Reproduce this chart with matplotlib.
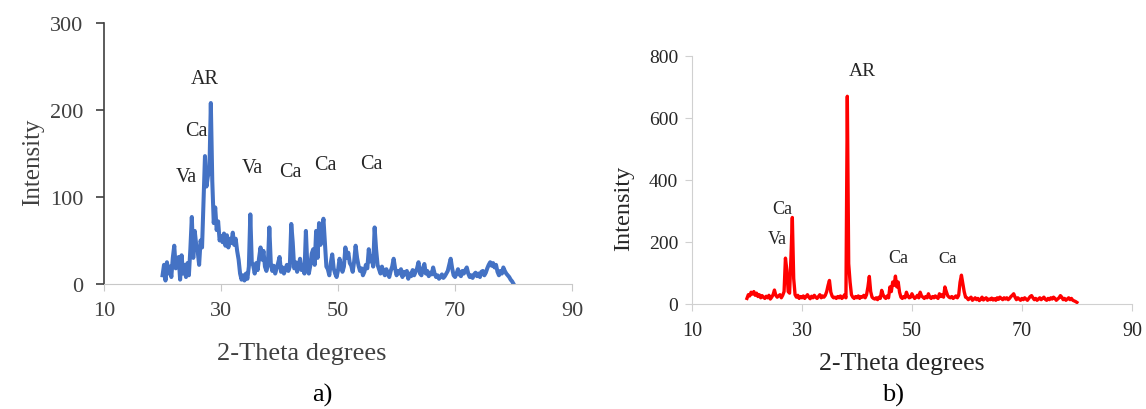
import numpy as np
import matplotlib
matplotlib.use("Agg")
import matplotlib.pyplot as plt

plt.rcParams['font.family'] = ['Liberation Serif', 'DejaVu Serif']

# 2-theta grid, 20..80 deg in 0.25 deg steps
two_theta = np.arange(20, 80.001, 0.25)

# a) intensity
intensity_a = [
    10, 22, 4, 25, 12, 20, 8, 30, 44, 18, 26, 31, 5, 33, 12, 22, 8, 24, 10, 40,
    77, 30, 61, 45, 38, 22, 50, 42, 95, 147, 112, 124, 128, 208, 118, 70, 88, 62, 72, 50,
    55, 48, 58, 44, 56, 42, 52, 47, 59, 45, 52, 38, 28, 12, 5, 10, 4, 12, 6, 20,
    80, 25, 21, 12, 24, 16, 30, 42, 28, 38, 20, 15, 22, 65, 24, 15, 21, 12, 18, 24,
    31, 14, 19, 12, 17, 22, 15, 20, 69, 48, 18, 25, 14, 21, 29, 16, 22, 12, 61, 20,
    12, 21, 35, 40, 22, 61, 30, 70, 45, 62, 75, 48, 20, 17, 10, 24, 34, 18, 12, 8,
    16, 29, 21, 14, 20, 42, 30, 36, 24, 21, 14, 26, 44, 30, 21, 15, 18, 10, 14, 22,
    18, 40, 26, 32, 20, 65, 40, 22, 17, 12, 20, 14, 10, 17, 12, 8, 15, 20, 29, 18,
    10, 15, 12, 17, 8, 14, 11, 15, 6, 12, 9, 16, 10, 14, 18, 25, 12, 10, 18, 23,
    12, 15, 9, 13, 11, 19, 12, 8, 10, 6, 8, 11, 7, 9, 12, 15, 22, 29, 18, 10,
    8, 12, 17, 11, 9, 15, 12, 16, 19, 12, 8, 10, 7, 11, 13, 9, 12, 8, 14, 15,
    10, 13, 18, 22, 25, 21, 24, 19, 22, 14, 10, 15, 12, 19, 15, 12, 10, 8, 5, 3,
    0,
]

# b) intensity
intensity_b = [
    18, 30, 26, 38, 32, 40, 28, 35, 24, 30, 20, 27, 22, 18, 25, 20, 28, 16, 22, 30,
    45, 28, 22, 26, 30, 20, 28, 40, 148, 110, 40, 35, 150, 279, 82, 30, 22, 28, 18, 24,
    20, 26, 18, 24, 30, 22, 17, 25, 20, 28, 22, 18, 24, 30, 20, 26, 22, 28, 40, 60,
    76, 38, 25, 20, 22, 18, 24, 20, 26, 18, 22, 30, 20, 670, 130, 71, 30, 22, 18, 24,
    20, 26, 18, 24, 22, 28, 20, 30, 55, 89, 40, 22, 18, 16, 20, 14, 22, 18, 44, 30,
    22, 18, 26, 20, 55, 40, 71, 60, 90, 55, 71, 38, 22, 18, 24, 20, 38, 26, 20, 22,
    33, 24, 18, 22, 28, 20, 38, 26, 22, 18, 24, 20, 33, 22, 18, 24, 20, 26, 22, 18,
    33, 24, 30, 22, 55, 40, 27, 22, 20, 24, 18, 22, 26, 20, 28, 70, 93, 66, 40, 22,
    20, 14, 18, 22, 12, 16, 20, 14, 18, 11, 15, 22, 13, 17, 20, 12, 16, 14, 19, 13,
    17, 12, 20, 15, 22, 18, 14, 20, 16, 20, 14, 18, 24, 28, 33, 22, 14, 20, 16, 12,
    18, 14, 20, 16, 12, 18, 24, 27, 20, 14, 18, 12, 16, 20, 14, 18, 22, 15, 12, 18,
    14, 20, 16, 22, 18, 12, 16, 20, 27, 22, 14, 18, 12, 16, 20, 14, 18, 12, 10, 8,
    5,
]

# phase labels: text, x, y
labels_a = [("AR", 27.3, 236), ("Ca", 25.7, 176), ("Va", 24.0, 123),
            ("Va", 35.3, 134), ("Ca", 41.8, 129), ("Ca", 47.8, 137), ("Ca", 55.6, 139)]
labels_b = [("AR", 40.9, 754, 14), ("Ca", 26.4, 308, 13), ("Va", 25.5, 212, 13),
            ("Ca", 47.5, 151, 13), ("Ca", 56.5, 148, 12)]

x_ticks = [10, 30, 50, 70, 90]

fig = plt.figure(figsize=(11.46, 4.10), dpi=100)

# ---- a) ----
ax1 = fig.add_axes([0.0908, 0.3049, 0.4084, 0.6366])
ax1.plot(two_theta, intensity_a, color="#4472C4", lw=2.9)
ax1.set_xlim(10, 90)
ax1.set_ylim(0, 300)
ax1.set_xticks(x_ticks)
ax1.set_yticks([0, 100, 200, 300])
for s in ["top", "right"]:
    ax1.spines[s].set_visible(False)
ax1.spines["left"].set_color("#404040")
ax1.spines["left"].set_linewidth(1.2)
ax1.spines["bottom"].set_color("#c8c8c8")
ax1.tick_params(axis="y", colors="#404040", labelsize=16, length=6, width=1.2, pad=9)
ax1.tick_params(axis="x", colors="#c8c8c8", labelcolor="#404040", labelsize=16, length=5, pad=7)
ax1.set_xlabel("2-Theta degrees", fontsize=19, color="#404040")
ax1.xaxis.set_label_coords(0.423, -0.222)
ax1.set_ylabel("Intensity", fontsize=18, color="#404040")
ax1.yaxis.set_label_coords(-0.128, 0.471)
for t, x, y in labels_a:
    ax1.text(x, y, t, fontsize=14.5, color="#262626", ha="center", va="center")

# ---- b) ----
ax2 = fig.add_axes([0.6038, 0.2561, 0.3839, 0.6049])
ax2.plot(two_theta, intensity_b, color="#FF0000", lw=2.4)
ax2.set_xlim(10, 90)
ax2.set_ylim(0, 800)
ax2.set_xticks(x_ticks)
ax2.set_yticks([0, 200, 400, 600, 800])
for s in ["top", "right"]:
    ax2.spines[s].set_visible(False)
ax2.spines["left"].set_color("#d0d0d0")
ax2.spines["bottom"].set_color("#d0d0d0")
ax2.tick_params(axis="both", colors="#d0d0d0", labelcolor="#262626", length=5)
ax2.tick_params(axis="y", labelsize=14, pad=5)
ax2.tick_params(axis="x", labelsize=14.5, pad=7)
ax2.set_xlabel("2-Theta degrees", fontsize=18.5, color="#262626")
ax2.xaxis.set_label_coords(0.477, -0.194)
ax2.set_ylabel("Intensity", fontsize=17.5, color="#262626")
ax2.yaxis.set_label_coords(-0.132, 0.39)
for t, x, y, fs in labels_b:
    ax2.text(x, y, t, fontsize=fs, color="#262626", ha="center", va="center")

fig.text(0.281, 0.035, "a)", fontsize=19, ha="center", va="center")
fig.text(0.779, 0.035, "b)", fontsize=19, ha="center", va="center")

fig.savefig("out.png", dpi=100)
